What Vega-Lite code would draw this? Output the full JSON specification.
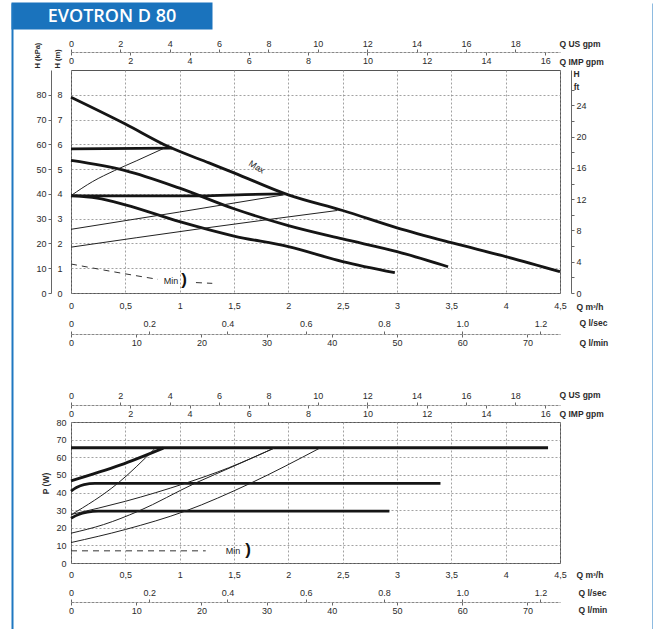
{
  "$schema": "https://vega.github.io/schema/vega-lite/v6.json",
  "padding": {"left": 12, "top": 2, "right": 0, "bottom": 0},
  "background": "white",
  "datasets": {
    "heading": [{"name": "EVOTRON D 80"}],
    "notes": [
      {"panel": "head", "label": "Max", "q": 1.71, "v": 5.09},
      {"panel": "head", "label": "Min", "q": 0.92, "v": 0.48},
      {"panel": "head", "label": ")", "q": 1.04, "v": 0.52},
      {"panel": "power", "label": "Min", "q": 1.49, "v": 6.6},
      {"panel": "power", "label": ")", "q": 1.63, "v": 7.4}
    ],
    "head": [
      {"curve": "Max", "type": "speed", "q": 0, "h": 7.9},
      {"curve": "Max", "type": "speed", "q": 0.5, "h": 6.82},
      {"curve": "Max", "type": "speed", "q": 0.9, "h": 5.9},
      {"curve": "Max", "type": "speed", "q": 1.27, "h": 5.25},
      {"curve": "Max", "type": "speed", "q": 1.5, "h": 4.85},
      {"curve": "Max", "type": "speed", "q": 2, "h": 3.96},
      {"curve": "Max", "type": "speed", "q": 2.5, "h": 3.33},
      {"curve": "Max", "type": "speed", "q": 3, "h": 2.63},
      {"curve": "Max", "type": "speed", "q": 3.5, "h": 2.03},
      {"curve": "Max", "type": "speed", "q": 4, "h": 1.47},
      {"curve": "Max", "type": "speed", "q": 4.5, "h": 0.86},
      {"curve": "II", "type": "speed", "q": 0, "h": 5.35},
      {"curve": "II", "type": "speed", "q": 0.5, "h": 4.94},
      {"curve": "II", "type": "speed", "q": 1, "h": 4.23},
      {"curve": "II", "type": "speed", "q": 1.5, "h": 3.4},
      {"curve": "II", "type": "speed", "q": 2, "h": 2.72},
      {"curve": "II", "type": "speed", "q": 2.5, "h": 2.18},
      {"curve": "II", "type": "speed", "q": 3, "h": 1.67},
      {"curve": "II", "type": "speed", "q": 3.47, "h": 1.06},
      {"curve": "I", "type": "speed", "q": 0, "h": 3.93},
      {"curve": "I", "type": "speed", "q": 0.24, "h": 3.83},
      {"curve": "I", "type": "speed", "q": 0.5, "h": 3.56},
      {"curve": "I", "type": "speed", "q": 1, "h": 2.88},
      {"curve": "I", "type": "speed", "q": 1.5, "h": 2.3},
      {"curve": "I", "type": "speed", "q": 2, "h": 1.87},
      {"curve": "I", "type": "speed", "q": 2.5, "h": 1.27},
      {"curve": "I", "type": "speed", "q": 2.98, "h": 0.82},
      {"curve": "CP high", "type": "constant", "q": 0, "h": 5.82},
      {"curve": "CP high", "type": "constant", "q": 0.93, "h": 5.85},
      {"curve": "CP low", "type": "constant", "q": 0, "h": 3.92},
      {"curve": "CP low", "type": "constant", "q": 1.2, "h": 3.92},
      {"curve": "CP low", "type": "constant", "q": 1.6, "h": 3.97},
      {"curve": "CP low", "type": "constant", "q": 1.95, "h": 4.0},
      {"curve": "PP 1", "type": "proportional", "q": 0, "h": 3.93},
      {"curve": "PP 1", "type": "proportional", "q": 0.2, "h": 4.5},
      {"curve": "PP 1", "type": "proportional", "q": 0.4, "h": 4.94},
      {"curve": "PP 1", "type": "proportional", "q": 0.6, "h": 5.33},
      {"curve": "PP 1", "type": "proportional", "q": 0.86, "h": 5.85},
      {"curve": "PP 2", "type": "proportional", "q": 0, "h": 2.57},
      {"curve": "PP 2", "type": "proportional", "q": 1, "h": 3.27},
      {"curve": "PP 2", "type": "proportional", "q": 1.97, "h": 3.97},
      {"curve": "PP 3", "type": "proportional", "q": 0, "h": 1.85},
      {"curve": "PP 3", "type": "proportional", "q": 1.2, "h": 2.6},
      {"curve": "PP 3", "type": "proportional", "q": 2.45, "h": 3.33},
      {"curve": "Min a", "type": "min", "q": 0, "h": 1.17},
      {"curve": "Min a", "type": "min", "q": 0.4, "h": 0.85},
      {"curve": "Min a", "type": "min", "q": 0.8, "h": 0.55},
      {"curve": "Min b", "type": "min", "q": 1.15, "h": 0.42},
      {"curve": "Min b", "type": "min", "q": 1.3, "h": 0.39}
    ],
    "power": [
      {"curve": "P max", "type": "speed", "q": 0, "p": 65.4},
      {"curve": "P max", "type": "speed", "q": 4.39, "p": 65.4},
      {"curve": "P rise", "type": "speed", "q": 0, "p": 46.6},
      {"curve": "P rise", "type": "speed", "q": 0.45, "p": 55.5},
      {"curve": "P rise", "type": "speed", "q": 0.85, "p": 65.2},
      {"curve": "P II", "type": "speed", "q": 0, "p": 40.8},
      {"curve": "P II", "type": "speed", "q": 0.05, "p": 42.8},
      {"curve": "P II", "type": "speed", "q": 0.12, "p": 44.5},
      {"curve": "P II", "type": "speed", "q": 0.22, "p": 45.2},
      {"curve": "P II", "type": "speed", "q": 3.4, "p": 45.2},
      {"curve": "P I", "type": "speed", "q": 0, "p": 25.4},
      {"curve": "P I", "type": "speed", "q": 0.07, "p": 27.5},
      {"curve": "P I", "type": "speed", "q": 0.15, "p": 28.8},
      {"curve": "P I", "type": "speed", "q": 0.25, "p": 29.4},
      {"curve": "P I", "type": "speed", "q": 2.93, "p": 29.4},
      {"curve": "Pa", "type": "proportional", "q": 0, "p": 27.3},
      {"curve": "Pa", "type": "proportional", "q": 0.43, "p": 45.2},
      {"curve": "Pa", "type": "proportional", "q": 0.77, "p": 64.8},
      {"curve": "Pb", "type": "proportional", "q": 0, "p": 27.5},
      {"curve": "Pb", "type": "proportional", "q": 0.5, "p": 35},
      {"curve": "Pb", "type": "proportional", "q": 1.05, "p": 45.2},
      {"curve": "Pb", "type": "proportional", "q": 1.45, "p": 54},
      {"curve": "Pb", "type": "proportional", "q": 1.87, "p": 65.2},
      {"curve": "Pc", "type": "proportional", "q": 0, "p": 16.9},
      {"curve": "Pc", "type": "proportional", "q": 0.3, "p": 21.8},
      {"curve": "Pc", "type": "proportional", "q": 0.62, "p": 29.4},
      {"curve": "Pc", "type": "proportional", "q": 1.14, "p": 45.2},
      {"curve": "Pc", "type": "proportional", "q": 1.5, "p": 55},
      {"curve": "Pc", "type": "proportional", "q": 1.87, "p": 65.2},
      {"curve": "Pd", "type": "proportional", "q": 0, "p": 11.6},
      {"curve": "Pd", "type": "proportional", "q": 0.5, "p": 19},
      {"curve": "Pd", "type": "proportional", "q": 1.05, "p": 29.4},
      {"curve": "Pd", "type": "proportional", "q": 1.65, "p": 45.2},
      {"curve": "Pd", "type": "proportional", "q": 2.29, "p": 65.2},
      {"curve": "P min", "type": "min", "q": 0, "p": 6.9},
      {"curve": "P min", "type": "min", "q": 1.24, "p": 6.9}
    ]
  },
  "config": {
    "view": {"stroke": "#555", "strokeWidth": 1},
    "axis": {
      "labelFont": "Liberation Sans", "labelFontSize": 9, "labelColor": "#2b2b2b",
      "titleFont": "Liberation Sans", "titleFontSize": 8.5, "titleFontWeight": "bold", "titleColor": "#2b2b2b",
      "domainColor": "#888", "tickColor": "#666", "tickSize": 3,
      "gridColor": "#8a8a8a", "gridDash": [2, 2], "gridWidth": 0.8,
      "labelOverlap": false, "labelFlush": false, "labelBound": false, "grid": false
    },
    "text": {"font": "Liberation Sans"}
  },
  "spacing": -613,
  "columns": 1,
  "align": "none",
  "concat": [
    {
      "spacing": 9,
      "columns": 1,
      "align": "none",
      "concat": [
        {
          "width": 81, "height": 27,
          "view": {"stroke": null},
          "data": {"name": "heading"},
          "mark": {"type": "point", "opacity": 0, "size": 1},
          "encoding": {
            "y": {"field": "name", "type": "nominal",
              "axis": {"orient": "left", "offset": -40.5, "domain": true, "domainColor": "#1a73bd", "domainWidth": 201, "domainCap": "butt", "labels": false, "ticks": false, "grid": false, "zindex": 0,
                "title": "EVOTRON D 80", "titleColor": "white", "titleFont": "Open Sans", "titleFontSize": 18, "titleFontWeight": 600, "titleAngle": 0, "titleAlign": "center", "titleBaseline": "middle", "titleX": 0, "titleY": 14}}
          }
        },
        {
          "width": 489, "height": 223,
          "resolve": {"axis": {"x": "independent", "y": "independent"}},
          "layer": [
            {
              "data": {"name": "head"},
              "transform": [{"filter": "datum.type == 'speed' || datum.type == 'constant'"}],
              "mark": {"type": "line", "strokeWidth": 2.8, "interpolate": "monotone", "color": "#151515"},
              "encoding": {
                "x": {"field": "q", "type": "quantitative", "scale": {"domain": [0, 4.5], "nice": false},
                  "axis": {"orient": "bottom", "values": [0, 0.5, 1, 1.5, 2, 2.5, 3, 3.5, 4, 4.5], "labelExpr": "replace(format(datum.value, '~g'), '.', ',')", "grid": true, "ticks": false, "domain": false, "labelPadding": 8, "title": "Q m³/h", "titleX": 505, "titleY": 13, "titleAlign": "left", "titleBaseline": "middle", "titleAngle": 0}},
                "y": {"field": "h", "type": "quantitative", "scale": {"domain": [0, 9], "nice": false},
                  "axis": {"orient": "left", "values": [0, 1, 2, 3, 4, 5, 6, 7, 8], "grid": true, "ticks": false, "domain": false, "labelPadding": 9, "title": "H (m)", "titleFontSize": 7.5, "titleAngle": 270, "titleAlign": "left", "titleBaseline": "middle", "titleX": -13.5, "titleY": -2}},
                "detail": {"field": "curve", "type": "nominal"}
              }
            },
            {
              "data": {"name": "head"},
              "transform": [{"filter": "datum.type == 'proportional'"}],
              "mark": {"type": "line", "strokeWidth": 1, "interpolate": "monotone", "color": "#222"},
              "encoding": {
                "x": {"field": "q", "type": "quantitative", "axis": null},
                "y": {"field": "h", "type": "quantitative", "axis": null},
                "detail": {"field": "curve", "type": "nominal"}
              }
            },
            {
              "data": {"name": "head"},
              "transform": [{"filter": "datum.type == 'min'"}],
              "mark": {"type": "line", "strokeWidth": 1, "strokeDash": [6, 5], "interpolate": "monotone", "color": "#333"},
              "encoding": {
                "x": {"field": "q", "type": "quantitative", "axis": null},
                "y": {"field": "h", "type": "quantitative", "axis": null},
                "detail": {"field": "curve", "type": "nominal"}
              }
            },
            {
              "data": {"name": "notes"},
              "transform": [{"filter": "datum.panel == 'head' && datum.label == 'Max'"}],
              "mark": {"type": "text", "fontSize": 9, "angle": 32, "color": "#222"},
              "encoding": {
                "x": {"field": "q", "type": "quantitative", "axis": null},
                "y": {"field": "v", "type": "quantitative", "axis": null},
                "text": {"field": "label"}
              }
            },
            {
              "data": {"name": "notes"},
              "transform": [{"filter": "datum.panel == 'head' && datum.label == 'Min'"}],
              "mark": {"type": "text", "fontSize": 9, "color": "#222"},
              "encoding": {
                "x": {"field": "q", "type": "quantitative", "axis": null},
                "y": {"field": "v", "type": "quantitative", "axis": null},
                "text": {"field": "label"}
              }
            },
            {
              "data": {"name": "notes"},
              "transform": [{"filter": "datum.panel == 'head' && datum.label == ')'"}],
              "mark": {"type": "text", "fontSize": 17, "fontWeight": "bold", "color": "#111"},
              "encoding": {
                "x": {"field": "q", "type": "quantitative", "axis": null},
                "y": {"field": "v", "type": "quantitative", "axis": null},
                "text": {"field": "label"}
              }
            },
            {
              "data": {"name": "head"},
              "mark": {"type": "point", "opacity": 0, "size": 1},
              "encoding": {
                "x": {"field": "q", "type": "quantitative", "axis": null},
                "y": {"field": "h", "type": "quantitative",
                  "axis": {"orient": "left", "offset": 20, "values": [0, 1, 2, 3, 4, 5, 6, 7, 8], "labelExpr": "format(datum.value * 10, 'd')", "domain": true, "domainColor": "#666", "ticks": true, "labelPadding": 2, "minExtent": 37, "title": "H (kPa)", "titleFontSize": 7.5, "titleAngle": 270, "titleAlign": "left", "titleBaseline": "middle", "titleX": -13.5, "titleY": -2}}
              }
            },
            {
              "data": {"name": "head"},
              "mark": {"type": "point", "opacity": 0, "size": 1},
              "encoding": {
                "x": {"field": "q", "type": "quantitative", "axis": null},
                "y": {"field": "h", "type": "quantitative",
                  "axis": {"orient": "right", "offset": 11, "values": [0, 0.6309, 1.2618, 1.8927, 2.5237, 3.1546, 3.7855, 4.4164, 5.0473, 5.6782, 6.3091, 6.9401, 7.571, 8.2019], "labelExpr": "round(datum.value * 3.17) % 4 == 0 ? format(round(datum.value * 3.17), 'd') : ''", "domain": true, "domainColor": "#666", "ticks": true, "labelPadding": 2, "title": ["H", "ft"], "titleAngle": 0, "titleAlign": "center", "titleBaseline": "top", "titleLineHeight": 13, "titleX": 5, "titleY": -1}}
              }
            },
            {
              "data": {"name": "head"},
              "mark": {"type": "point", "opacity": 0, "size": 1},
              "encoding": {
                "x": {"field": "q", "type": "quantitative",
                  "axis": {"orient": "top", "offset": 18, "values": [0, 0.4542, 0.9085, 1.3627, 1.817, 2.2712, 2.7254, 3.1797, 3.6339, 4.0882], "labelExpr": "format(round(datum.value * 4.40287), 'd')", "domain": false, "ticks": true, "labelPadding": 1, "title": "Q US gpm", "titleX": 488, "titleY": -9, "titleAlign": "left", "titleBaseline": "middle"}},
                "y": {"field": "h", "type": "quantitative", "axis": null}
              }
            },
            {
              "data": {"name": "head"},
              "mark": {"type": "point", "opacity": 0, "size": 1},
              "encoding": {
                "x": {"field": "q", "type": "quantitative",
                  "axis": {"orient": "bottom", "offset": -241, "values": [0, 0.5455, 1.0911, 1.6366, 2.1821, 2.7277, 3.2732, 3.8187, 4.3642], "labelExpr": "format(round(datum.value * 3.66615), 'd')", "domain": true, "domainDash": [3, 1], "ticks": true, "labelPadding": 1, "title": "Q IMP gpm", "titleX": 488, "titleY": 9, "titleAlign": "left", "titleBaseline": "middle"}},
                "y": {"field": "h", "type": "quantitative", "axis": null}
              }
            },
            {
              "data": {"name": "head"},
              "mark": {"type": "point", "opacity": 0, "size": 1},
              "encoding": {
                "x": {"field": "q", "type": "quantitative",
                  "axis": {"orient": "top", "offset": -264, "values": [0, 0.72, 1.44, 2.16, 2.88, 3.6, 4.32], "labelExpr": "datum.value == 0 ? '0' : format(datum.value / 3.6, '.1f')", "domain": false, "ticks": true, "labelPadding": 3, "title": "Q l/sec", "titleX": 508, "titleY": -12, "titleAlign": "left", "titleBaseline": "middle"}},
                "y": {"field": "h", "type": "quantitative", "axis": null}
              }
            },
            {
              "data": {"name": "head"},
              "mark": {"type": "point", "opacity": 0, "size": 1},
              "encoding": {
                "x": {"field": "q", "type": "quantitative",
                  "axis": {"orient": "bottom", "offset": 41, "values": [0, 0.6, 1.2, 1.8, 2.4, 3.0, 3.6, 4.2], "labelExpr": "format(round(datum.value * 16.6667), 'd')", "domain": true, "domainDash": [3, 1], "ticks": true, "labelPadding": 1, "title": "Q l/min", "titleX": 508, "titleY": 8, "titleAlign": "left", "titleBaseline": "middle"}},
                "y": {"field": "h", "type": "quantitative", "axis": null}
              }
            }
          ]
        },
        {
          "width": 489, "height": 141,
          "resolve": {"axis": {"x": "independent", "y": "independent"}},
          "layer": [
            {
              "data": {"name": "power"},
              "transform": [{"filter": "datum.type == 'speed'"}],
              "mark": {"type": "line", "strokeWidth": 2.8, "interpolate": "monotone", "color": "#151515"},
              "encoding": {
                "x": {"field": "q", "type": "quantitative", "scale": {"domain": [0, 4.5], "nice": false},
                  "axis": {"orient": "bottom", "values": [0, 0.5, 1, 1.5, 2, 2.5, 3, 3.5, 4, 4.5], "labelExpr": "replace(format(datum.value, '~g'), '.', ',')", "grid": true, "ticks": false, "domain": false, "labelPadding": 7, "title": "Q m³/h", "titleX": 505, "titleY": 11, "titleAlign": "left", "titleBaseline": "middle", "titleAngle": 0}},
                "y": {"field": "p", "type": "quantitative", "scale": {"domain": [0, 80], "nice": false},
                  "axis": {"orient": "left", "values": [0, 10, 20, 30, 40, 50, 60, 70, 80], "grid": true, "ticks": false, "domain": false, "labelPadding": 5, "minExtent": 58, "title": "P (W)", "titleAngle": 270, "titleAlign": "center", "titleBaseline": "middle", "titleX": -26, "titleY": 61}},
                "detail": {"field": "curve", "type": "nominal"}
              }
            },
            {
              "data": {"name": "power"},
              "transform": [{"filter": "datum.type == 'proportional'"}],
              "mark": {"type": "line", "strokeWidth": 1, "interpolate": "monotone", "color": "#222"},
              "encoding": {
                "x": {"field": "q", "type": "quantitative", "axis": null},
                "y": {"field": "p", "type": "quantitative", "axis": null},
                "detail": {"field": "curve", "type": "nominal"}
              }
            },
            {
              "data": {"name": "power"},
              "transform": [{"filter": "datum.type == 'min'"}],
              "mark": {"type": "line", "strokeWidth": 1, "strokeDash": [6, 5], "color": "#333"},
              "encoding": {
                "x": {"field": "q", "type": "quantitative", "axis": null},
                "y": {"field": "p", "type": "quantitative", "axis": null},
                "detail": {"field": "curve", "type": "nominal"}
              }
            },
            {
              "data": {"name": "notes"},
              "transform": [{"filter": "datum.panel == 'power' && datum.label == 'Min'"}],
              "mark": {"type": "text", "fontSize": 9, "color": "#222"},
              "encoding": {
                "x": {"field": "q", "type": "quantitative", "axis": null},
                "y": {"field": "v", "type": "quantitative", "axis": null},
                "text": {"field": "label"}
              }
            },
            {
              "data": {"name": "notes"},
              "transform": [{"filter": "datum.panel == 'power' && datum.label == ')'"}],
              "mark": {"type": "text", "fontSize": 17, "fontWeight": "bold", "color": "#111"},
              "encoding": {
                "x": {"field": "q", "type": "quantitative", "axis": null},
                "y": {"field": "v", "type": "quantitative", "axis": null},
                "text": {"field": "label"}
              }
            },
            {
              "data": {"name": "power"},
              "mark": {"type": "point", "opacity": 0, "size": 1},
              "encoding": {
                "x": {"field": "q", "type": "quantitative",
                  "axis": {"orient": "top", "offset": 17, "values": [0, 0.4542, 0.9085, 1.3627, 1.817, 2.2712, 2.7254, 3.1797, 3.6339, 4.0882], "labelExpr": "format(round(datum.value * 4.40287), 'd')", "domain": false, "ticks": true, "labelPadding": 2, "minExtent": 47, "title": "Q US gpm", "titleX": 488, "titleY": -11, "titleAlign": "left", "titleBaseline": "middle"}},
                "y": {"field": "p", "type": "quantitative", "axis": null}
              }
            },
            {
              "data": {"name": "power"},
              "mark": {"type": "point", "opacity": 0, "size": 1},
              "encoding": {
                "x": {"field": "q", "type": "quantitative",
                  "axis": {"orient": "bottom", "offset": -158, "values": [0, 0.5455, 1.0911, 1.6366, 2.1821, 2.7277, 3.2732, 3.8187, 4.3642], "labelExpr": "format(round(datum.value * 3.66615), 'd')", "domain": true, "domainDash": [3, 1], "ticks": true, "labelPadding": 1, "title": "Q IMP gpm", "titleX": 488, "titleY": 8, "titleAlign": "left", "titleBaseline": "middle"}},
                "y": {"field": "p", "type": "quantitative", "axis": null}
              }
            },
            {
              "data": {"name": "power"},
              "mark": {"type": "point", "opacity": 0, "size": 1},
              "encoding": {
                "x": {"field": "q", "type": "quantitative",
                  "axis": {"orient": "top", "offset": -180, "values": [0, 0.72, 1.44, 2.16, 2.88, 3.6, 4.32], "labelExpr": "datum.value == 0 ? '0' : format(datum.value / 3.6, '.1f')", "domain": false, "ticks": true, "labelPadding": 2, "title": "Q l/sec", "titleX": 507, "titleY": -10, "titleAlign": "left", "titleBaseline": "middle"}},
                "y": {"field": "p", "type": "quantitative", "axis": null}
              }
            },
            {
              "data": {"name": "power"},
              "mark": {"type": "point", "opacity": 0, "size": 1},
              "encoding": {
                "x": {"field": "q", "type": "quantitative",
                  "axis": {"orient": "bottom", "offset": 39, "values": [0, 0.6, 1.2, 1.8, 2.4, 3.0, 3.6, 4.2], "labelExpr": "format(round(datum.value * 16.6667), 'd')", "domain": true, "domainDash": [3, 1], "ticks": true, "labelPadding": 1, "title": "Q l/min", "titleX": 507, "titleY": 7, "titleAlign": "left", "titleBaseline": "middle"}},
                "y": {"field": "p", "type": "quantitative", "axis": null}
              }
            }
          ]
        }
      ]
    },
    {
      "width": 582, "height": 626,
      "view": {"stroke": null},
      "data": {"name": "heading"},
      "resolve": {"axis": {"y": "independent"}},
      "layer": [
        {
          "mark": {"type": "point", "opacity": 0, "size": 1},
          "encoding": {
            "x": {"field": "name", "type": "nominal", "axis": {"orient": "top", "domain": true, "domainColor": "#1f78c1", "domainWidth": 2, "labels": false, "ticks": false, "title": null, "grid": false}},
            "y": {"field": "name", "type": "nominal", "axis": {"orient": "left", "offset": 59, "domain": true, "domainColor": "#1f78c1", "domainWidth": 2, "labels": false, "ticks": false, "title": null, "grid": false}}
          }
        },
        {
          "mark": {"type": "point", "opacity": 0, "size": 1},
          "encoding": {
            "x": {"field": "name", "type": "nominal", "axis": null},
            "y": {"field": "name", "type": "nominal", "axis": {"orient": "right", "offset": 0, "domain": true, "domainColor": "#1f78c1", "domainWidth": 2, "labels": false, "ticks": false, "title": null, "grid": false}}
          }
        }
      ]
    }
  ]
}
